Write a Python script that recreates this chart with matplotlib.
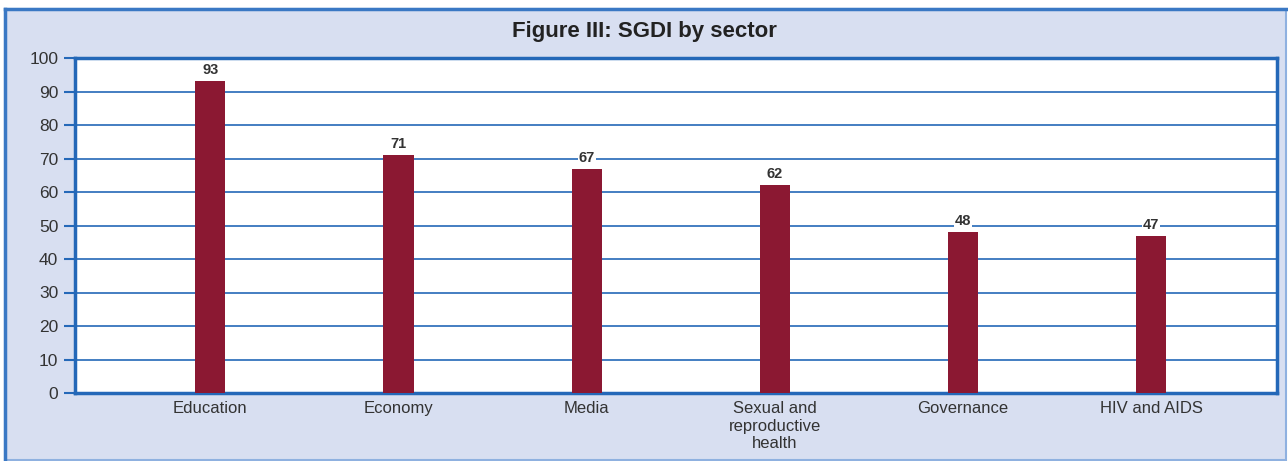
import matplotlib.pyplot as plt
from matplotlib.patches import Rectangle

sectors = ["Education", "Economy", "Media", "Sexual and\nreproductive\nhealth",
           "Governance", "HIV and AIDS"]
sgdi = [93, 71, 67, 62, 48, 47]
yticks = list(range(0, 101, 10))

bg = "#d8dff1"
blue = "#2468b8"
bar_col = "#8b1832"
txt = "#333333"

plt.rcParams['font.family'] = ['Liberation Sans', 'DejaVu Sans']

fig = plt.figure(figsize=(12.88, 4.61), dpi=100, facecolor="white")
# outer frame
fig.patches.append(Rectangle((5/1288, 1/461), 1281/1288, 451/461, transform=fig.transFigure,
                             facecolor=bg, edgecolor="#8fb1e0", linewidth=1.5, zorder=-5))
fig.lines.append(plt.Line2D([5/1288, 5/1288], [1/461, 452/461], transform=fig.transFigure,
                            color="#3a78c4", linewidth=2.5, zorder=-4))
fig.lines.append(plt.Line2D([5/1288, 1286/1288], [452/461, 452/461], transform=fig.transFigure,
                            color="#3a78c4", linewidth=2.5, zorder=-4))

ax = fig.add_axes([75/1288, 1 - 393/461, (1277 - 75)/1288, (393 - 58)/461])
ax.set_zorder(2)
ax.set_facecolor("white")

x = range(len(sectors))
bars = ax.bar(x, sgdi, width=0.16, color=bar_col, zorder=3)
for xi, v in zip(x, sgdi):
    ax.text(xi, v + 1.2, str(v), ha="center", va="bottom", fontsize=10.5, fontweight="bold",
            color=txt, zorder=4,
            bbox=dict(facecolor="white", edgecolor="none", pad=0.5))

ax.set_ylim(0, 100)
ax.set_xlim(-0.72, 5.67)
ax.set_yticks(yticks)
ax.set_yticklabels([str(t) for t in yticks], fontsize=12.5, color=txt)
ax.set_xticks(list(x))
ax.set_xticklabels(sectors, fontsize=12, color=txt, linespacing=1.2)
ax.tick_params(axis="x", length=0, pad=6)
ax.tick_params(axis="y", length=8, width=1.5, color=blue, pad=4)
ax.grid(axis="y", color=blue, linewidth=1.2, zorder=1)
for s in ax.spines.values():
    s.set_color(blue)
    s.set_linewidth(2.5)

fig.text(644/1288, 1 - 32/461, "Figure III: SGDI by sector", ha="center", va="center",
         fontsize=16, fontweight="bold", color="#222222",
         family=['Liberation Sans Narrow', 'Liberation Sans', 'DejaVu Sans'])

fig.savefig("out.png", dpi=100, facecolor=fig.get_facecolor())
